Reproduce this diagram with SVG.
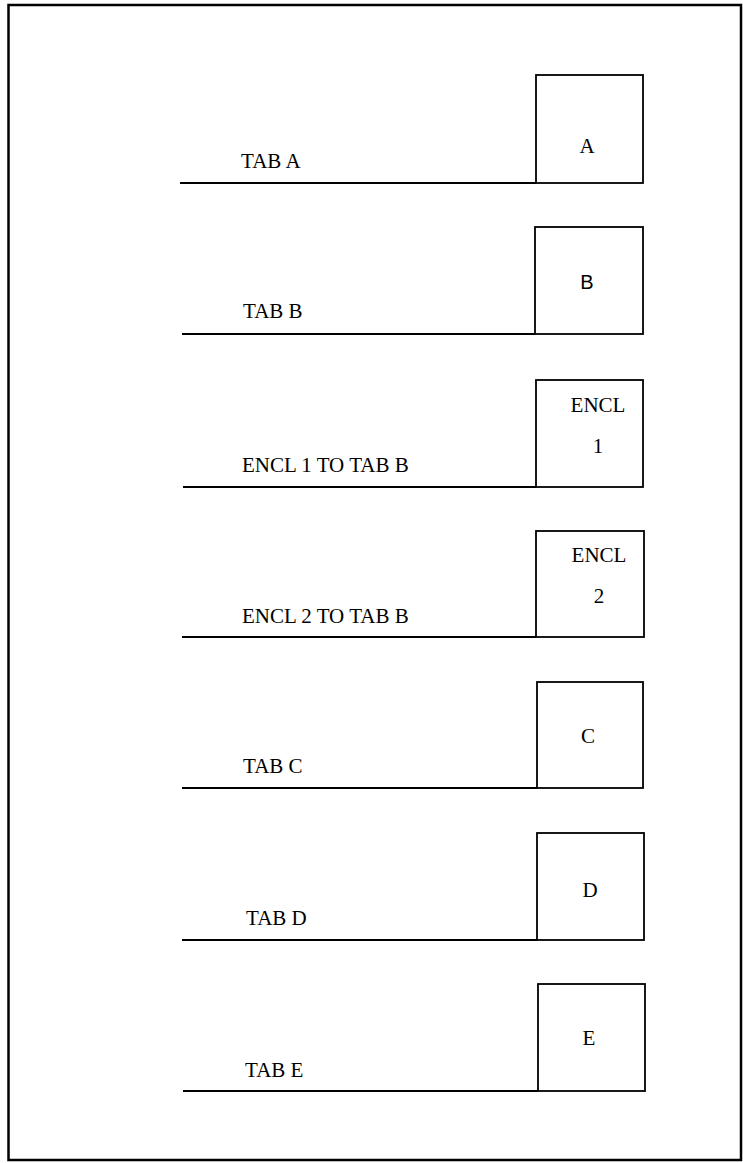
<svg xmlns="http://www.w3.org/2000/svg" width="743" height="1163" viewBox="0 0 743 1163">
<style>
.frame{fill:none;stroke:#000;stroke-width:2.5}
.box{fill:#fff;stroke:#000;stroke-width:1.8}
.base{stroke:#000;stroke-width:2;fill:none}
.lbl{font-family:"Liberation Serif","Times New Roman",serif;font-size:21px;fill:#000}
.ctr{text-anchor:middle}
.sans{font-family:"Liberation Sans",Arial,sans-serif;font-size:20px}
</style>
<rect width="743" height="1163" fill="#fff"/>
<rect class="frame" x="8.5" y="5" width="732.5" height="1155"/>
<g id="connectors">
<line class="base" x1="180" y1="183" x2="536" y2="183"/>
<line class="base" x1="182" y1="334" x2="535" y2="334"/>
<line class="base" x1="183" y1="487" x2="536" y2="487"/>
<line class="base" x1="182" y1="637" x2="536" y2="637"/>
<line class="base" x1="182" y1="788" x2="537" y2="788"/>
<line class="base" x1="182" y1="940" x2="537" y2="940"/>
<line class="base" x1="183" y1="1091" x2="538" y2="1091"/>
</g>
<g id="tabA">
<rect class="box" x="536" y="75" width="107" height="108"/>
<text class="lbl ctr" x="587" y="153">A</text>
<text class="lbl" x="241" y="168">TAB A</text>
</g>
<g id="tabB">
<rect class="box" x="535" y="227" width="108" height="107"/>
<text class="lbl ctr sans" x="587" y="289">B</text>
<text class="lbl" x="243" y="318">TAB B</text>
</g>
<g id="encl1">
<rect class="box" x="536" y="380" width="107" height="107"/>
<text class="lbl ctr" x="598" y="412">ENCL</text>
<text class="lbl ctr" x="598" y="453">1</text>
<text class="lbl" x="242" y="472">ENCL 1 TO TAB B</text>
</g>
<g id="encl2">
<rect class="box" x="536" y="531" width="108" height="106"/>
<text class="lbl ctr" x="599" y="562">ENCL</text>
<text class="lbl ctr" x="599" y="603">2</text>
<text class="lbl" x="242" y="623">ENCL 2 TO TAB B</text>
</g>
<g id="tabC">
<rect class="box" x="537" y="682" width="106" height="106"/>
<text class="lbl ctr" x="588" y="743">C</text>
<text class="lbl" x="243" y="773">TAB C</text>
</g>
<g id="tabD">
<rect class="box" x="537" y="833" width="107" height="107"/>
<text class="lbl ctr" x="590" y="897">D</text>
<text class="lbl" x="246" y="925">TAB D</text>
</g>
<g id="tabE">
<rect class="box" x="538" y="984" width="107" height="107"/>
<text class="lbl ctr" x="589" y="1045">E</text>
<text class="lbl" x="245" y="1077">TAB E</text>
</g>
</svg>
